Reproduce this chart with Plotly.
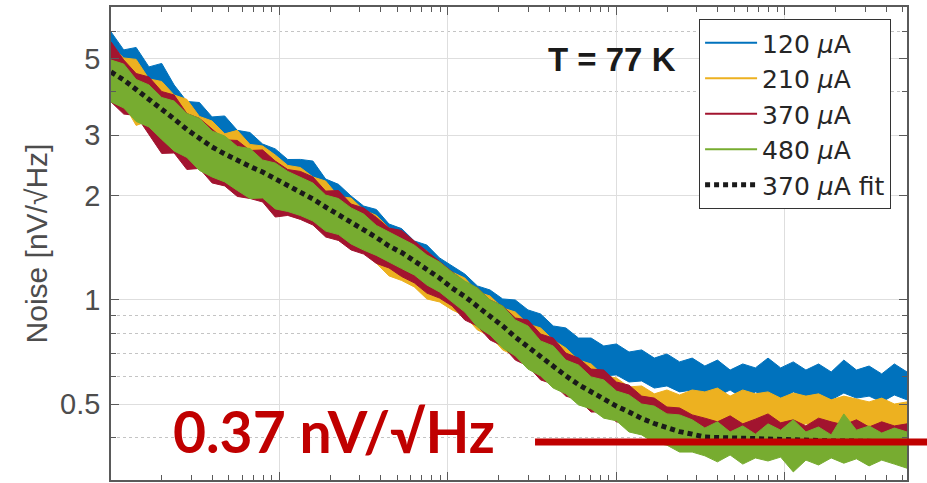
import plotly.graph_objects as go

# Frequency grid (Hz), log-spaced
freq = [10, 11.9, 14.1, 16.8, 20.0, 23.7, 28.2, 33.5, 39.8, 47.3, 56.2, 66.8, 79.4, 94.4,
        112, 133, 158, 188, 224, 266, 316, 376, 447, 531, 631, 750, 891, 1059, 1259, 1496,
        1778, 2113, 2512, 2985, 3548, 4217, 5012, 5957, 7079, 8414, 10000, 11885, 14125,
        16788, 19953, 23714, 28184, 33497, 39811, 47315, 56234, 66834, 79433, 94406, 112202,
        133352, 158489, 188365, 223872, 266073, 316228, 375837, 446684, 530884]

# 370 uA fit (nV/sqrt(Hz))
fit_370 = [4.571, 4.333, 4.067, 3.818, 3.560, 3.342, 3.116, 2.934, 2.772, 2.647,
           2.534, 2.435, 2.347, 2.240, 2.145, 2.061, 1.960, 1.858, 1.768, 1.682,
           1.594, 1.517, 1.433, 1.372, 1.297, 1.229, 1.158, 1.083, 1.024, 0.958,
           0.899, 0.841, 0.781, 0.731, 0.682, 0.642, 0.603, 0.569, 0.542, 0.520,
           0.493, 0.474, 0.454, 0.439, 0.426, 0.416, 0.409, 0.401, 0.400, 0.399,
           0.396, 0.396, 0.393, 0.393, 0.393, 0.391, 0.391, 0.391, 0.391, 0.390,
           0.389, 0.389, 0.388, 0.388]

# Noise band envelopes (upper / lower) per bias current
i120_hi = [5.970, 5.295, 5.381, 4.727, 4.838, 4.191, 3.755, 3.729, 3.387, 3.409, 3.097, 3.053,
           2.828, 2.737, 2.550, 2.552, 2.524, 2.239, 2.161, 2.000, 1.870, 1.828, 1.659, 1.609,
           1.482, 1.442, 1.324, 1.254,
           1.189, 1.098, 1.069, 1.007, 1.000, 0.936, 0.911, 0.841, 0.830, 0.776, 0.776, 0.736,
           0.746, 0.707, 0.717, 0.679, 0.698, 0.662, 0.679,
           0.644, 0.670, 0.627, 0.653, 0.636, 0.679, 0.636, 0.662, 0.627, 0.653, 0.619, 0.670,
           0.627, 0.644, 0.611, 0.653, 0.619]
i120_lo = [4.65, 4.45, 4.14, 3.93, 3.63, 3.43, 3.18, 3.02, 2.83, 2.72, 2.58, 2.50, 2.39, 2.30,
           2.19, 2.12, 2.00, 1.91, 1.80, 1.73, 1.63, 1.56, 1.46, 1.41, 1.32, 1.26, 1.18, 1.10,
           1.013, 0.961, 0.923, 0.864, 0.841, 0.797, 0.766, 0.717, 0.693, 0.653, 0.640, 0.603,
           0.607, 0.579, 0.583, 0.556, 0.564, 0.542, 0.549,
           0.542, 0.527, 0.549, 0.520, 0.542, 0.531, 0.514, 0.542, 0.524, 0.535, 0.514, 0.538,
           0.520, 0.527, 0.507, 0.531, 0.514]

i210_hi = [5.435, 5.018, 4.970, 4.364, 4.290, 3.920, 3.808, 3.398, 3.296, 3.026, 3.097, 2.820,
           2.791, 2.628, 2.452, 2.418, 2.270, 2.209, 1.993, 1.973, 1.822, 1.757, 1.615, 1.568,
           1.442, 1.385, 1.271, 1.204,
           1.158, 1.055, 1.027, 0.948, 0.923, 0.852, 0.830, 0.766, 0.726, 0.670, 0.653, 0.603,
           0.595, 0.560, 0.564, 0.535, 0.549, 0.531, 0.549,
           0.542, 0.556, 0.527, 0.549, 0.535, 0.542, 0.520, 0.538, 0.527, 0.535, 0.514, 0.527,
           0.517, 0.507, 0.520, 0.500, 0.507]
i210_lo = [3.949, 3.692, 3.201, 3.299, 2.994, 2.887, 2.655, 2.567, 2.331, 2.287, 2.159, 2.021,
           2.028, 1.908, 1.804, 1.781, 1.670, 1.626, 1.487, 1.433, 1.377, 1.276, 1.174, 1.139,
           1.091, 1.007, 0.987, 0.936,
           0.899, 0.819, 0.787, 0.717, 0.689, 0.636, 0.619, 0.587, 0.571, 0.542, 0.535, 0.507,
           0.500, 0.480, 0.477, 0.459, 0.462, 0.450, 0.452,
           0.447, 0.438, 0.452, 0.432, 0.444, 0.435, 0.441, 0.426, 0.438, 0.429, 0.435, 0.420,
           0.432, 0.423, 0.418, 0.426, 0.415]

i370_hi = [5.586, 4.953, 4.523, 4.421, 4.012, 3.920, 3.465, 3.354, 3.124, 2.906, 2.896, 2.708,
           2.718, 2.524, 2.385, 2.356, 2.270, 2.066, 2.074, 1.896, 1.846, 1.734, 1.615, 1.589,
           1.482, 1.385, 1.288, 1.204,
           1.127, 1.083, 1.000, 0.961, 0.887, 0.875, 0.797, 0.776, 0.702, 0.679, 0.631, 0.627,
           0.579, 0.567, 0.527, 0.520, 0.490, 0.487, 0.465,
           0.455, 0.444, 0.462, 0.438, 0.452, 0.468, 0.441, 0.450, 0.432, 0.455, 0.444, 0.435,
           0.450, 0.429, 0.444, 0.432, 0.438]
i370_lo = [3.744, 3.453, 3.420, 3.005, 2.656, 2.664, 2.387, 2.403, 2.182, 2.139, 1.994, 1.967,
           1.922, 1.738, 1.757, 1.711, 1.648, 1.522, 1.487, 1.396, 1.358, 1.276, 1.238, 1.169,
           1.121, 1.047, 1.013, 0.961,
           0.875, 0.841, 0.766, 0.736, 0.670, 0.644, 0.587, 0.571, 0.527, 0.514, 0.474, 0.474,
           0.444, 0.438, 0.409, 0.409, 0.388, 0.393, 0.378,
           0.378, 0.373, 0.383, 0.368, 0.380, 0.363, 0.378, 0.373, 0.383, 0.368, 0.375, 0.378,
           0.363, 0.375, 0.370, 0.378, 0.368]

i480_hi = [4.950, 4.818, 4.348, 4.192, 3.855, 3.766, 3.465, 3.354, 3.082, 2.983, 2.782, 2.744,
           2.542, 2.491, 2.355, 2.263, 2.180, 2.012, 1.966, 1.847, 1.773, 1.643, 1.573, 1.506,
           1.442, 1.349, 1.288, 1.204,
           1.135, 1.083, 1.000, 0.961, 0.875, 0.841, 0.761, 0.736, 0.670, 0.648, 0.599, 0.587,
           0.545, 0.531, 0.500, 0.493, 0.468, 0.465, 0.450,
           0.426, 0.444, 0.415, 0.432, 0.409, 0.438, 0.420, 0.450, 0.415, 0.429, 0.407, 0.468,
           0.420, 0.432, 0.412, 0.426, 0.415]
i480_lo = [3.744, 3.596, 3.286, 3.169, 2.916, 2.700, 2.586, 2.371, 2.270, 2.197, 2.075, 1.967,
           1.974, 1.835, 1.804, 1.756, 1.693, 1.583, 1.547, 1.453, 1.395, 1.346, 1.288, 1.233,
           1.182, 1.105, 1.055, 0.987,
           0.923, 0.835, 0.792, 0.726, 0.689, 0.631, 0.603, 0.556, 0.535, 0.497, 0.484, 0.455,
           0.447, 0.415, 0.407, 0.386, 0.380, 0.363, 0.363,
           0.354, 0.340, 0.356, 0.335, 0.349, 0.342, 0.351, 0.318, 0.344, 0.333, 0.349, 0.337,
           0.347, 0.331, 0.344, 0.335, 0.326]

series_names = ["120 <i>μ</i>A", "210 <i>μ</i>A", "370 <i>μ</i>A", "480 <i>μ</i>A"]
fit_name = "370 <i>μ</i>A fit"
y_ticks = [0.5, 1, 2, 3, 5]
y_tick_labels = ["0.5", "1", "2", "3", "5"]
y_minor = [0.4, 0.6, 0.7, 0.8, 0.9, 4, 6]

colors = ["#0072BD", "#EDB120", "#A2142F", "#77AC30"]
bands = [(i120_hi, i120_lo), (i210_hi, i210_lo), (i370_hi, i370_lo), (i480_hi, i480_lo)]

fig = go.Figure()
for name, (hi, lo), col in zip(series_names, bands, colors):
    fig.add_trace(go.Scatter(x=freq + freq[::-1], y=hi + lo[::-1], mode="lines",
                             fill="toself", fillcolor=col, line=dict(color=col, width=1),
                             showlegend=False, hoverinfo="skip"))
for name, col in zip(series_names, colors):
    fig.add_trace(go.Scatter(x=[None], y=[None], mode="lines", name=name,
                             line=dict(color=col, width=2)))
fig.add_trace(go.Scatter(x=freq, y=fit_370, mode="lines", name=fit_name,
                         line=dict(color="#1a1a1a", width=5, dash="5px,4px")))

axis_col = "#5a5a5a"
fig.update_layout(
    width=927, height=483,
    margin=dict(l=111, r=20, t=7, b=3, autoexpand=False),
    paper_bgcolor="white", plot_bgcolor="white",
    font=dict(family="Liberation Sans, Arial, sans-serif", color="#4d4d4d"),
    showlegend=True,
    legend=dict(x=0.98, y=0.9746, xanchor="right", yanchor="top",
                bgcolor="white", bordercolor="#333333", borderwidth=1,
                font=dict(family="DejaVu Sans", size=25, color="#262626"), itemwidth=52,
                tracegroupgap=0),
)
fig.update_xaxes(type="log", range=[1, 5.725], dtick=1, showticklabels=False,
                 automargin=False,
                 ticks="inside", ticklen=8, tickcolor=axis_col,
                 showline=True, linecolor=axis_col, linewidth=1.5, mirror="ticks",
                 showgrid=True, gridcolor="#dedede", gridwidth=1, zeroline=False,
                 minor=dict(ticks="inside", ticklen=5, tickcolor=axis_col, dtick="D1",
                            showgrid=False))
fig.update_yaxes(type="log", range=[-0.521, 0.848], tickmode="array",
                 tickvals=y_ticks, ticktext=y_tick_labels, automargin=False,
                 ticks="inside", ticklen=8, tickcolor=axis_col,
                 tickfont=dict(size=29, color="#4d4d4d"), ticklabelstandoff=3,
                 showline=True, linecolor=axis_col, linewidth=1.5, mirror="ticks",
                 showgrid=True, gridcolor="#dedede", gridwidth=1, zeroline=False,
                 title=dict(text="Noise [nV/√Hz]",
                            font=dict(size=30, color="#4d4d4d"), standoff=4),
                 minor=dict(tickmode="array", tickvals=y_minor, ticks="inside", ticklen=5,
                            tickcolor=axis_col, showgrid=True, griddash="dot",
                            gridcolor="#c4c4c4", gridwidth=1))

fig.add_annotation(x=0.6294, y=0.889, xref="paper", yref="paper", showarrow=False,
                   text="<b>T = 77 K</b>", xanchor="center", yanchor="middle",
                   font=dict(family="Liberation Sans, Arial", size=33, color="#1a1a1a"))
fig.add_annotation(x=0.2802, y=0.1036, xref="paper", yref="paper", showarrow=False,
                   text="<b>0.37 nV/√Hz</b>", xanchor="center", yanchor="middle",
                   font=dict(family="Lato", size=57, color="#C00000"))
fig.add_shape(type="line", xref="paper", yref="paper", x0=0.5327, x1=1.03, y0=0.0803,
              y1=0.0803, line=dict(color="#C00000", width=7), layer="above")

fig.write_html("out.html", config={"displayModeBar": False},
               post_script="document.body.style.margin='0';")
